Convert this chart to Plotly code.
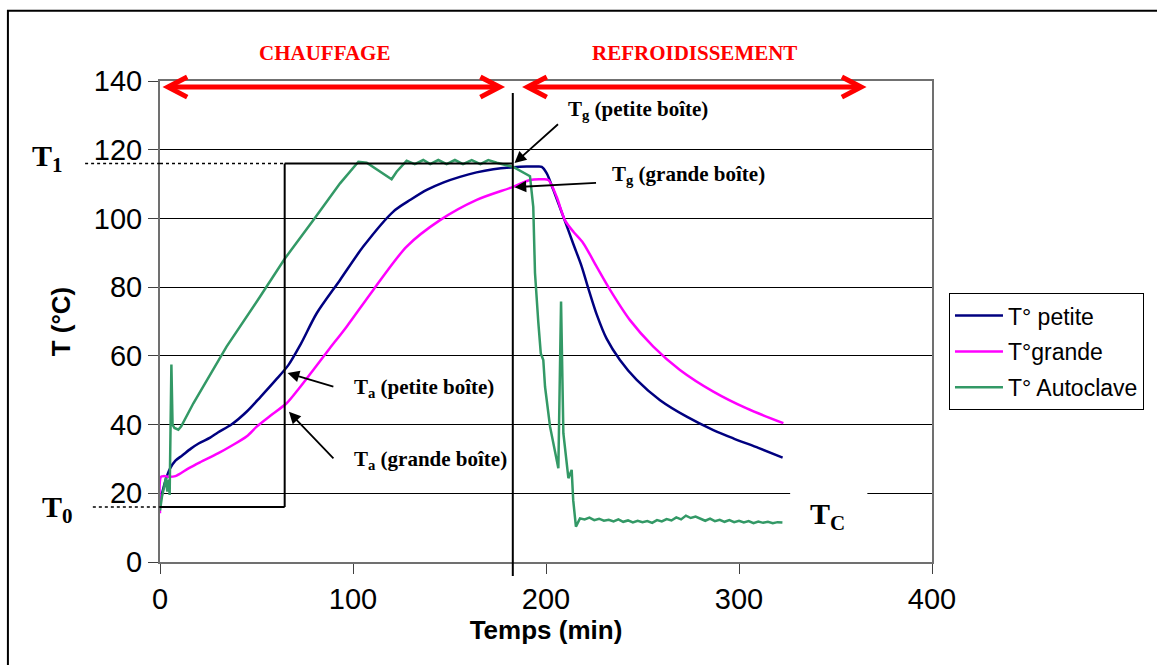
import plotly.graph_objects as go

# ---------------- data ----------------
t_petite = [0, 1.3, 3, 5, 8, 11.5, 16, 20, 26, 30, 37, 45, 52, 60, 66.5, 73, 81.2, 93.3, 105.3,
            120.9, 130, 138.2, 147, 155.4, 164, 172.7, 183, 190, 195.2, 197.8, 200.4, 203.8, 209,
            214.2, 218.5, 222, 226.3, 231.4, 238.3, 247, 259.1, 272.9, 286.7, 297, 310, 322.6]
T_petite = [17, 20.5, 24, 27, 29.5, 31, 33, 34.5, 36.2, 37.7, 40, 43.8, 48, 53, 57.3, 63.5, 72.4, 82.1, 91.8,
            102, 105.5, 108.3, 110.5, 112.1, 113.4, 114.3, 114.9, 115.1, 115.1, 115.0, 113.1, 108.3, 100.5,
            92.5, 86.0, 79.5, 72.0, 65.0, 58.8, 53, 47.1, 42.3, 38.4, 36, 33.2, 30.4]

t_grande = [0, 0.5, 2, 5, 8, 10, 15, 20.7, 30, 37.3, 45, 50.1, 57, 65.6, 72, 79.4, 87, 96.7, 110.5,
            127.8, 145.1, 164.1, 183, 191.7, 197.8, 201.2, 205.5, 209.8, 214.2, 219.3, 226.3, 233.2,
            243.5, 255.6, 269.4, 286.7, 304, 323]
T_grande = [14.2, 24.8, 25, 24.8, 25, 25.6, 27.3, 29, 31.6, 33.9, 36.6, 39.4, 42.5, 46.2, 50.5, 55.9, 61.5, 68.5, 79.2,
            91.8, 99.5, 105.4, 109.2, 111.2, 111.4, 111.2, 106.3, 99.5, 96.1, 92.8, 85.9, 79.2,
            70.4, 62.7, 55.9, 49.6, 44.7, 40.4]

t_auto = [0, 1, 2.2, 3, 3.8, 4.5, 5.0, 5.9, 6.5, 7.5, 9.5, 11, 17.3, 34.5, 51.8, 64.8, 79.4, 93.3,
          102.8, 107.1, 120, 122.6, 127.8, 132, 136.4, 140, 144.2, 148.5, 152.8, 157, 161.5, 166,
          170.1, 174.5, 183, 191.7, 193.4, 194.3, 196, 197.3, 198.6, 199.5, 202.1, 206.4, 207.8,
          209, 211.6, 213.3, 214.1, 215.5, 217.6,
          220, 222.5, 225, 227.5, 230, 232.5, 235, 237.5, 240, 242.5, 245, 247.5, 250, 252.5, 255,
          257.5, 260, 262.5, 265, 267.5, 270, 272.5, 275, 277.5, 280, 282.5, 285, 287.5, 290, 292.5,
          295, 297.5, 300, 302.5, 305, 307.5, 310, 312.5, 315, 317.5, 320, 322.5]
T_auto = [15, 19, 22, 24.5, 20.5, 24, 19.5, 57.5, 40, 39, 38.5, 39.5, 46.2, 62.7, 77.2, 88.4, 99.5, 110.2,
          116.5, 116.2, 111.4, 113.6, 116.8, 115.8, 117.0, 115.8, 117.0, 115.8, 117.0, 115.8, 117.0, 115.8,
          117.0, 116.2, 115.0, 112.3, 103.4, 84.1, 69.9, 60.7, 58.8, 51, 39.4, 27.3, 75.8,
          37.5, 24.4, 26.8, 18, 10.3, 12.7,
          12.4, 12.9, 12.2, 12.6, 12.0, 12.3, 11.8, 12.4, 11.7, 12.1, 11.5, 12.0, 11.6, 11.9, 11.4,
          12.2, 11.8, 12.5, 12.1, 13.0, 12.4, 13.5, 12.8, 13.2, 12.5, 12.0, 12.6, 11.9, 12.3, 11.7,
          12.2, 11.6, 12.0, 11.5, 11.9, 11.3, 11.8, 11.4, 11.7, 11.3, 11.6, 11.5]

series_names = ["T° petite", "T°grande", "T° Autoclave"]
series_colors = ["#000080", "#FF00FF", "#339966"]
series_shapes = ["spline", "spline", "linear"]

x_ticks = [0, 100, 200, 300, 400]
y_ticks = [0, 20, 40, 60, 80, 100, 120, 140]

T0_level = 16.0
T1_level = 116.0
t_box = 64.6
t_cut = 182.8

# ---------------- figure ----------------
fig = go.Figure()
for i, (xs, ys) in enumerate([(t_petite, T_petite), (t_grande, T_grande), (t_auto, T_auto)]):
    line = dict(color=series_colors[i], width=2.5, shape=series_shapes[i])
    if series_shapes[i] == "spline":
        line["smoothing"] = 0.8
    fig.add_trace(go.Scatter(x=xs, y=ys, mode="lines", name=series_names[i],
                             legendgroup=f"g{i}", line=line))

serif = "Liberation Serif, Times New Roman, serif"
sans = "Liberation Sans, Arial, sans-serif"

shapes = []
blk = dict(color="black", width=2)
# white patch behind Tc label
shapes.append(dict(type="rect", xref="x", yref="y", x0=326.5, x1=366.5, y0=5, y1=26,
                   fillcolor="white", line=dict(width=0), layer="above"))
# T0 dotted + solid
shapes.append(dict(type="line", xref="paper", yref="y", x0=-0.087, x1=0, y0=T0_level, y1=T0_level,
                   line=dict(color="black", width=1.5, dash="dot")))
shapes.append(dict(type="line", xref="x", yref="y", x0=0, x1=t_box, y0=T0_level, y1=T0_level, line=blk))
shapes.append(dict(type="line", xref="x", yref="y", x0=t_box, x1=t_box, y0=T0_level, y1=T1_level, line=blk))
# T1 dotted + solid
shapes.append(dict(type="line", xref="paper", yref="y", x0=-0.097, x1=0, y0=T1_level, y1=T1_level,
                   line=dict(color="black", width=1.5, dash="dot")))
shapes.append(dict(type="line", xref="x", yref="y", x0=0, x1=t_box, y0=T1_level, y1=T1_level,
                   line=dict(color="black", width=1.5, dash="dot")))
shapes.append(dict(type="line", xref="x", yref="y", x0=t_box, x1=t_cut, y0=T1_level, y1=T1_level, line=blk))
# vertical separation line
shapes.append(dict(type="line", xref="x", yref="paper", x0=t_cut, x1=t_cut, y0=-0.029, y1=0.975, line=blk))

# red double arrows
red = dict(color="#FF0000", width=5)
ya = 0.9875
dy = 0.021
hx = 10.0
for (xa, xb) in [(4.1, 176.0), (190.4, 363.3)]:
    shapes.append(dict(type="line", xref="x", yref="paper", x0=xa + 1, x1=xb - 1, y0=ya, y1=ya, line=red))
    shapes.append(dict(type="path", xref="x", yref="paper",
                       path=f"M {xa + hx},{ya + dy} L {xa},{ya} L {xa + hx},{ya - dy}", line=red))
    shapes.append(dict(type="path", xref="x", yref="paper",
                       path=f"M {xb - hx},{ya + dy} L {xb},{ya} L {xb - hx},{ya - dy}", line=red))

# outer frame
shapes.append(dict(type="rect", xref="paper", yref="paper", x0=-0.197, x1=1.5, y0=-0.5, y1=1.146,
                   line=dict(color="black", width=2), fillcolor="rgba(0,0,0,0)"))

annotations = []
# black arrows (head, tail)
arrows = [((183.7, 116.1), (207.0, 127.8)),
          ((183.7, 109.1), (226.7, 110.4)),
          ((66.1, 55.0), (90.6, 50.9)),
          ((66.8, 43.7), (90.6, 29.7))]
for (hx_, hy_), (tx_, ty_) in arrows:
    annotations.append(dict(x=hx_, y=hy_, ax=tx_, ay=ty_, xref="x", yref="y", axref="x", ayref="y",
                            text="", showarrow=True, arrowhead=2, arrowsize=1.3, arrowwidth=1.8,
                            arrowcolor="black"))
labels = [("T<sub>g</sub> (petite boîte)", 210.6, 131.5),
          ("T<sub>g</sub> (grande boîte)", 233.4, 112.6),
          ("T<sub>a</sub> (petite boîte)", 99.4, 50.6),
          ("T<sub>a</sub> (grande boîte)", 99.4, 29.7)]
for txt, lx, ly in labels:
    annotations.append(dict(x=lx, y=ly, xref="x", yref="y", text=f"<b>{txt}</b>", showarrow=False,
                            xanchor="left", yanchor="middle",
                            font=dict(family=serif, size=21, color="black")))
# phase labels
annotations.append(dict(x=85.4, y=1.058, xref="x", yref="paper", text="<b>CHAUFFAGE</b>", showarrow=False,
                        xanchor="center", yanchor="middle",
                        font=dict(family=serif, size=21, color="#FF0000")))
annotations.append(dict(x=276.8, y=1.058, xref="x", yref="paper", text="<b>REFROIDISSEMENT</b>",
                        showarrow=False, xanchor="center", yanchor="middle",
                        font=dict(family=serif, size=21, color="#FF0000")))
# T1, T0, Tc
annotations.append(dict(x=-0.146, y=0.84, xref="paper", yref="paper", text="<b>T<sub>1</sub></b>",
                        showarrow=False, xanchor="center", yanchor="middle",
                        font=dict(family=serif, size=30, color="black")))
annotations.append(dict(x=-0.133, y=0.11, xref="paper", yref="paper", text="<b>T<sub>0</sub></b>",
                        showarrow=False, xanchor="center", yanchor="middle",
                        font=dict(family=serif, size=30, color="black")))
annotations.append(dict(x=346, y=13.4, xref="x", yref="y", text="<b>T<sub>C</sub></b>",
                        showarrow=False, xanchor="center", yanchor="middle",
                        font=dict(family=serif, size=30, color="black")))

fig.update_layout(
    width=1157, height=665,
    margin=dict(l=160, r=225, t=81, b=103),
    paper_bgcolor="white", plot_bgcolor="white",
    font=dict(family=sans, color="black"),
    showlegend=True,
    legend=dict(x=1.022, y=0.559, xanchor="left", yanchor="top",
                bordercolor="black", borderwidth=1, bgcolor="white",
                font=dict(family=sans, size=23, color="black"),
                itemwidth=48, tracegroupgap=3),
    shapes=shapes,
    annotations=annotations,
)
fig.update_xaxes(range=[0, 400], tickvals=x_ticks, ticktext=[str(v) for v in x_ticks],
                 showgrid=False, zeroline=False,
                 showline=True, linecolor="#707070", linewidth=2, mirror=True,
                 ticks="outside", ticklen=10, tickcolor="#404040", tickwidth=1,
                 tickfont=dict(family=sans, size=29, color="black"),
                 title=dict(text="<b>Temps (min)</b>", font=dict(family=sans, size=26, color="black"),
                            standoff=4))
fig.update_yaxes(range=[0, 140], tickvals=y_ticks, ticktext=[str(v) for v in y_ticks],
                 showgrid=True, gridcolor="black", gridwidth=1, zeroline=False,
                 showline=True, linecolor="#707070", linewidth=2, mirror=True,
                 ticks="outside", ticklen=10, tickcolor="#404040", tickwidth=1,
                 tickfont=dict(family=sans, size=29, color="black"),
                 title=dict(text="<b>T (°C)</b>", font=dict(family=sans, size=26, color="black"),
                            standoff=16))

fig.write_html("out.html")
